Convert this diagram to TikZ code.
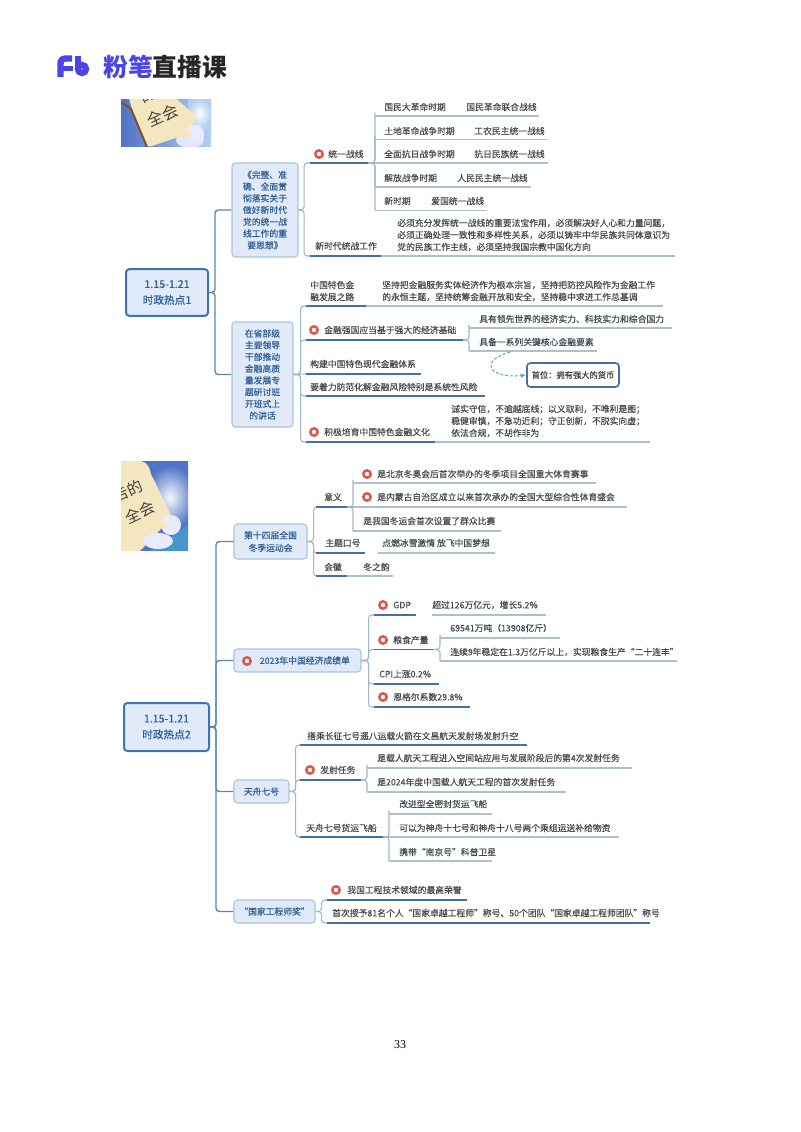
\documentclass[tikz,border=0pt]{standalone}
\usepackage{fontspec}
\setmainfont{Noto Sans CJK SC}
\newfontfamily\lblfont{Noto Sans CJK SC}[FakeBold=0.35]
\newfontfamily\rootfont{Noto Sans CJK SC}[FakeBold=0.7]
\newfontfamily\pagefont{Liberation Serif}
\usetikzlibrary{arrows.meta}
\definecolor{txtgray}{HTML}{4A4A4A}
\definecolor{boxblue}{HTML}{2F5F96}
\definecolor{boxfill}{HTML}{E0EAF8}
\definecolor{boxedge}{HTML}{A9C3DE}
\definecolor{rootedge}{HTML}{3C74B4}
\definecolor{trunkcol}{HTML}{5C87AE}
\definecolor{linkcol}{HTML}{A0B6C9}
\definecolor{majorcol}{HTML}{44729F}
\definecolor{minorcol}{HTML}{AEBFCD}
\definecolor{ringred}{HTML}{D85C4E}
\definecolor{logopurple}{HTML}{4B45E6}
\definecolor{paper}{HTML}{F4E6BE}
\definecolor{skyblue}{HTML}{4F73C6}
\definecolor{skylight}{HTML}{B4CFF2}
\tikzset{
	lbl/.style={anchor=west,inner sep=0pt,text=txtgray,align=left,font=\lblfont\fontsize{6.6}{9}\selectfont},
	rootbox/.style={draw=rootedge,line width=1.5pt,fill=boxfill,rounded corners=2.5pt,text=boxblue,align=center,inner sep=0pt,font=\rootfont\fontsize{8}{12}\selectfont},
	subbox/.style={draw=boxedge,line width=0.8pt,fill=boxfill,rounded corners=2.5pt,text=boxblue,align=center,inner sep=0pt,font=\lblfont\fontsize{6.6}{8.8}\selectfont},
	redring/.style={circle,draw=ringred,line width=1.9pt,fill=white,inner sep=0pt,minimum size=5.5pt},
	trunk/.style={draw=trunkcol,line width=1.1pt,rounded corners=2.5pt},
	link/.style={draw=linkcol,line width=0.8pt,rounded corners=2.5pt},
	major/.style={draw=majorcol,line width=1.1pt},
	minor/.style={draw=minorcol,line width=0.8pt}
}
\begin{document}
\begin{tikzpicture}[x=0.75pt,y=-0.75pt]
	\useasboundingbox (0,0) rectangle (800,1132);

	% logo
	\draw[logopurple,line width=4.8pt] (60.5,77) -- (60.5,64) .. controls (60.5,60.5) and (62,58.5) .. (66,58.5) -- (72,58.5);
	\draw[logopurple,line width=4.4pt] (60.5,68.5) -- (73,68.5);
	\draw[logopurple,line width=4.6pt] (78,56) -- (78,69);
	\draw[logopurple,line width=4.6pt] (82,69) circle (3.1pt);
	\node[anchor=west,inner sep=0pt,font=\bfseries\fontsize{18.6}{20}\selectfont] (brand) at (103,66.5) {\textcolor{logopurple}{粉笔}\textcolor{black!85}{直播课}};

	% first picture
	\begin{scope}
		\clip (121,99) rectangle (211,146);
		\shade[left color=skyblue,right color=skylight] (121,99) rectangle (211,146);
		\shade[inner color=white,outer color=skylight] (188,99) rectangle (211,128);
		\fill[white!90!blue] (190,140) ellipse (14 and 8);
		\fill[paper] (128,95) -- (172,95) -- (197,117) -- (187,134) -- (152,146) -- (146,146) -- (132,109) -- cycle;
		\draw[brown!65!black,line width=1.5pt] (121,102) -- (131,109) -- (147,147);
		\fill[white!92!blue] (195,134) circle (7pt);
		\fill[paper] (187,134) circle (3pt);
		\node[rotate=25,inner sep=0pt,text=black!75,font=\fontsize{12}{13}\selectfont] (capone) at (162.5,115.5) {全会};
		\node[rotate=25,inner sep=0pt,text=black!75,font=\fontsize{11}{12}\selectfont] (captwo) at (148,95) {的};
	\end{scope}

	% second picture
	\begin{scope}
		\clip (121,461) rectangle (188,551);
		\fill[skyblue] (121,461) rectangle (188,551);
		\shade[inner color=white!85!skylight,outer color=skyblue] (145,465) rectangle (195,530);
		\fill[cyan!45!skyblue] (150,551) -- (188,525) -- (188,551) -- cycle;
		\fill[paper] (115,461) -- (141,461) .. controls (147,462) and (150,468) .. (151,474) -- (171,515) -- (160,530) -- (140,551) -- (115,551) -- cycle;
		\fill[white!92!blue] (171,525) circle (7.5pt);
		\fill[white!92!blue] (158,541) ellipse (15 and 8);
		\fill[paper] (163,525) circle (3pt);
		\node[rotate=25,inner sep=0pt,text=black!75,font=\fontsize{11.5}{12}\selectfont] (capthree) at (128,491) {告的};
		\node[rotate=25,inner sep=0pt,text=black!75,font=\fontsize{11.5}{12}\selectfont] (capfour) at (139.5,512.5) {全会};
	\end{scope}

	% first map, roots
	\node[rootbox,minimum width=61.5pt,minimum height=35pt] (rootone) at (167,292.5) {1.15-1.21\\时政热点1};
	\node[subbox,minimum width=49.5pt,minimum height=70.5pt] (wanzheng) at (265,210) {《完整、准\\确、全面贯\\彻落实关于\\做好新时代\\党的统一战\\线工作的重\\要思想》};
	\node[subbox,minimum width=45.75pt,minimum height=78.75pt] (shengbu) at (262.5,374.5) {在省部级\\主要领导\\干部推动\\金融高质\\量发展专\\题研讨班\\开班式上\\的讲话};
	\draw[trunk] (rootone.east) -- ++(6,0) |- (wanzheng.west);
	\draw[trunk] (rootone.east) -- ++(6,0) |- (shengbu.west);

	% united front
	\coordinate (tyzx) at (310,163);
	\coordinate (tyzxend) at (368,163);
	\node[redring] (ringa) at (319,154) {};
	\node[lbl] (tyzxtxt) at (328,154) {统一战线};
	\draw[link] (wanzheng.east) -- ++(5.5,0) |- (tyzx);
	\draw[major] (tyzx) -- (tyzxend);
	\coordinate (xsd) at (310,256);
	\node[lbl] (xsdtxt) at (315,246) {新时代统战工作};
	\draw[link] (wanzheng.east) -- ++(5.5,0) |- (xsd);
	\draw[minor] (xsd) ++(71,0) -- ++(294,0);
	\draw[major] (xsd) -- ++(71,0);
	\node[lbl] (xsdlong) at (397,235) {必须充分发挥统一战线的重要法宝作用，必须解决好人心和力量问题，\\必须正确处理一致性和多样性关系，必须以铸牢中华民族共同体意识为\\党的民族工作主线，必须坚持我国宗教中国化方向};

	\coordinate (gma) at (375,116);
	\coordinate (gmb) at (375,139.5);
	\coordinate (gmc) at (375,163);
	\coordinate (gmd) at (375,187);
	\coordinate (gme) at (375,210.5);
	\draw[link] (tyzxend) -- ++(7,0) |- (gma);
	\draw[link] (tyzxend) -- ++(7,0) |- (gmb);
	\draw[link] (tyzxend) -- (gmc);
	\draw[link] (tyzxend) -- ++(7,0) |- (gmd);
	\draw[link] (tyzxend) -- ++(7,0) |- (gme);
	\draw[minor] (gma) -- ++(164,0);
	\draw[minor] (gmb) -- ++(173,0);
	\draw[minor] (gmc) -- ++(173,0);
	\draw[minor] (gmd) -- ++(156,0);
	\draw[minor] (gme) -- ++(112,0);
	\node[lbl] (gmatxt) at (384,107) {国民大革命时期};
	\node[lbl] (gmaval) at (466,107) {国民革命联合战线};
	\node[lbl] (gmbtxt) at (384,131) {土地革命战争时期};
	\node[lbl] (gmbval) at (474,131) {工农民主统一战线};
	\node[lbl] (gmctxt) at (384,154) {全面抗日战争时期};
	\node[lbl] (gmcval) at (474,154) {抗日民族统一战线};
	\node[lbl] (gmdtxt) at (384,178) {解放战争时期};
	\node[lbl] (gmdval) at (457,178) {人民民主统一战线};
	\node[lbl] (gmetxt) at (384,201) {新时期};
	\node[lbl] (gmeval) at (431,201) {爱国统一战线};

	% finance
	\coordinate (jra) at (306,306);
	\coordinate (jrb) at (306,340);
	\coordinate (jrc) at (306,374);
	\coordinate (jrd) at (306,396);
	\coordinate (jre) at (306,442);
	\draw[link] (shengbu.east) -- ++(7,0) |- (jra);
	\draw[link] (shengbu.east) -- ++(7,0) |- (jrb);
	\draw[link] (shengbu.east) -- (jrc);
	\draw[link] (shengbu.east) -- ++(7,0) |- (jrd);
	\draw[link] (shengbu.east) -- ++(7,0) |- (jre);
	\draw[minor] (jra) ++(60,0) -- ++(297,0);
	\draw[major] (jra) -- ++(60,0);
	\node[lbl] (jratxt) at (310,291) {中国特色金\\融发展之路};
	\node[lbl] (jraval) at (382,291) {坚持把金融服务实体经济作为根本宗旨，坚持把防控风险作为金融工作\\的永恒主题，坚持统筹金融开放和安全，坚持稳中求进工作总基调};
	\node[redring] (ringb) at (314,330) {};
	\node[lbl] (jrbtxt) at (324,330) {金融强国应当基于强大的经济基础};
	\draw[major] (jrb) -- ++(157,0) coordinate (jrbend);
	\node[lbl] (jrctxt) at (310,364) {构建中国特色现代金融体系};
	\draw[major] (jrc) -- ++(115,0);
	\node[lbl] (jrdtxt) at (310,387) {要着力防范化解金融风险特别是系统性风险};
	\draw[major] (jrd) -- ++(179,0);
	\node[redring] (ringc) at (314,432) {};
	\node[lbl] (jretxt) at (324,432) {积极培育中国特色金融文化};
	\draw[minor] (jre) ++(129,0) -- ++(215,0);
	\draw[major] (jre) -- ++(129,0);
	\node[lbl] (jreval) at (451,421) {诚实守信，不逾越底线；以义取利，不唯利是图；\\稳健审慎，不急功近利；守正创新，不脱实向虚；\\依法合规，不胡作非为};

	\coordinate (jcha) at (469,328);
	\coordinate (jchb) at (469,351);
	\draw[link] (jrbend) -- ++(6,0) |- (jcha);
	\draw[link] (jrbend) -- ++(6,0) |- (jchb);
	\draw[minor] (jcha) -- ++(203,0);
	\draw[minor] (jchb) -- ++(128,0);
	\coordinate (curvestart) at (510,352);
	\node[lbl] (jchatxt) at (479,319) {具有领先世界的经济实力、科技实力和综合国力};
	\node[lbl] (jchbtxt) at (479,342) {具备一系列关键核心金融要素};
	\node[draw=majorcol,line width=1.2pt,rounded corners=2.5pt,fill=white,inner sep=0pt,minimum width=69pt,minimum height=18pt,text=black!75,font=\rootfont\fontsize{6.2}{8}\selectfont] (shouwei) at (573,375) {首位：拥有强大的货币};
	\draw[draw=cyan!55!gray,line width=0.8pt,dash pattern=on 2.2pt off 1.4pt,-{Latex[length=4pt,width=3.5pt]}] (curvestart) .. controls (476,362) and (492,379) .. (shouwei.west);

	% second map, roots
	\node[rootbox,minimum width=63.75pt,minimum height=36pt] (roottwo) at (166.5,727) {1.15-1.21\\时政热点2};
	\node[subbox,minimum width=54.75pt,minimum height=26.25pt,font=\lblfont\fontsize{6.6}{9.5}\selectfont] (dongyun) at (270.5,541.5) {第十四届全国\\冬季运动会};
	\node[subbox,minimum width=95.25pt,minimum height=17.25pt] (jingji) at (297.5,660.5) {\hspace{11pt}2023年中国经济成绩单};
	\node[redring] (ringd) at (247,661) {};
	\node[subbox,minimum width=41.25pt,minimum height=17.25pt] (tianzhou) at (261.5,791.5) {天舟七号};
	\node[subbox,minimum width=60.75pt,minimum height=17.25pt] (gongcheng) at (274.5,911.5) {“国家工程师奖”};
	\draw[trunk] (roottwo.east) -- ++(6,0) |- (dongyun.west);
	\draw[trunk] (roottwo.east) -- ++(6,0) |- (jingji.west);
	\draw[trunk] (roottwo.east) -- ++(6,0) |- (tianzhou.west);
	\draw[trunk] (roottwo.east) -- ++(6,0) |- (gongcheng.west);

	% winter games
	\coordinate (yiyi) at (316,507);
	\coordinate (kouhao) at (316,553);
	\coordinate (huihui) at (316,576);
	\draw[link] (dongyun.east) -- ++(6,0) |- (yiyi);
	\draw[link] (dongyun.east) -- ++(6,0) |- (kouhao);
	\draw[link] (dongyun.east) -- ++(6,0) |- (huihui);
	\draw[major] (yiyi) -- ++(31,0) coordinate (yiyiend);
	\draw[major] (kouhao) -- ++(49,0);
	\draw[minor] (378,553) -- (495,553);
	\draw[minor] (347,576) -- (393,576);
	\draw[major] (huihui) -- ++(31,0);
	\node[lbl] (yiyitxt) at (324,497) {意义};
	\node[lbl] (kouhaotxt) at (325,543) {主题口号};
	\node[lbl] (kouhaoval) at (382,543) {点燃冰雪激情 放飞中国梦想};
	\node[lbl] (huihuitxt) at (324,567) {会徽};
	\node[lbl] (huihuival) at (363,567) {冬之韵};

	\coordinate (yya) at (353,483);
	\coordinate (yyb) at (353,507);
	\coordinate (yyc) at (353,531);
	\draw[link] (yiyiend) -- ++(6,0) |- (yya);
	\draw[link] (yiyiend) -- (yyb);
	\draw[link] (yiyiend) -- ++(6,0) |- (yyc);
	\draw[minor] (yya) -- ++(243,0);
	\draw[minor] (yyb) -- ++(274,0);
	\draw[minor] (yyc) -- ++(148,0);
	\node[redring] (ringe) at (367,474) {};
	\node[lbl] (yyatxt) at (377,474) {是北京冬奥会后首次举办的冬季项目全国重大体育赛事};
	\node[redring] (ringf) at (367,497) {};
	\node[lbl] (yybtxt) at (377,497) {是内蒙古自治区成立以来首次承办的全国大型综合性体育盛会};
	\node[lbl] (yyctxt) at (363,521) {是我国冬运会首次设置了群众比赛};

	% economy
	\coordinate (gdp) at (374,615);
	\coordinate (liang) at (374,649.5);
	\coordinate (cpi) at (374,684);
	\coordinate (engel) at (374,707);
	\draw[link] (jingji.east) -- ++(7,0) |- (gdp);
	\draw[link] (jingji.east) -- ++(7,0) |- (liang);
	\draw[link] (jingji.east) -- ++(7,0) |- (cpi);
	\draw[link] (jingji.east) -- ++(7,0) |- (engel);
	\draw[major] (gdp) -- ++(42,0);
	\draw[minor] (432,615) -- (546,615);
	\draw[major] (liang) -- ++(59,0) coordinate (liangend);
	\draw[major] (cpi) -- ++(65,0);
	\draw[major] (engel) -- ++(96,0);
	\node[redring] (ringg) at (383,605) {};
	\node[lbl] (gdptxt) at (393,605) {GDP};
	\node[lbl] (gdpval) at (432,605) {超过126万亿元，增长5.2\%};
	\node[redring] (ringh) at (383,640) {};
	\node[lbl] (liangtxt) at (393,640) {粮食产量};
	\node[lbl] (cpitxt) at (379,674) {CPI上涨0.2\%};
	\node[redring] (ringi) at (383,697) {};
	\node[lbl] (engeltxt) at (393,697) {恩格尔系数29.8\%};
	\coordinate (lsa) at (440,638);
	\coordinate (lsb) at (440,661);
	\draw[link] (liangend) -- ++(7,0) |- (lsa);
	\draw[link] (liangend) -- ++(7,0) |- (lsb);
	\draw[minor] (lsa) -- ++(120,0);
	\draw[minor] (lsb) -- ++(237,0);
	\node[lbl] (lsatxt) at (450,628) {69541万吨（13908亿斤）};
	\node[lbl] (lsbtxt) at (450,652) {连续9年稳定在1.3万亿斤以上，实现粮食生产“二十连丰”};

	% spacecraft
	\coordinate (dazai) at (300,745);
	\coordinate (fashe) at (300,780);
	\coordinate (huoyun) at (300,837);
	\draw[link] (tianzhou.east) -- ++(6,0) |- (dazai);
	\draw[link] (tianzhou.east) -- ++(6,0) |- (fashe);
	\draw[link] (tianzhou.east) -- ++(6,0) |- (huoyun);
	\draw[major] (dazai) -- ++(227,0);
	\draw[major] (fashe) -- ++(61,0) coordinate (fasheend);
	\draw[major] (huoyun) -- ++(83,0) coordinate (huoyunend);
	\node[lbl] (dazaitxt) at (307,736) {搭乘长征七号遥八运载火箭在文昌航天发射场发射升空};
	\node[redring] (ringj) at (310,770) {};
	\node[lbl] (fashetxt) at (320,770) {发射任务};
	\node[lbl] (huoyuntxt) at (306,828) {天舟七号货运飞船};
	\coordinate (fsa) at (367,768);
	\coordinate (fsb) at (367,792);
	\draw[link] (fasheend) -- ++(6,0) |- (fsa);
	\draw[link] (fasheend) -- ++(6,0) |- (fsb);
	\draw[minor] (fsa) -- ++(265,0);
	\draw[minor] (fsb) -- ++(199,0);
	\node[lbl] (fsatxt) at (377,758) {是载人航天工程进入空间站应用与发展阶段后的第4次发射任务};
	\node[lbl] (fsbtxt) at (377,782) {是2024年度中国载人航天工程的首次发射任务};
	\coordinate (hya) at (389,814);
	\coordinate (hyb) at (389,837);
	\coordinate (hyc) at (389,861);
	\draw[link] (huoyunend) -- ++(6,0) |- (hya);
	\draw[link] (huoyunend) -- (hyb);
	\draw[link] (huoyunend) -- ++(6,0) |- (hyc);
	\draw[minor] (hya) -- ++(103,0);
	\draw[minor] (hyb) -- ++(230,0);
	\draw[minor] (hyc) -- ++(103,0);
	\node[lbl] (hyatxt) at (399,804) {改进型全密封货运飞船};
	\node[lbl] (hybtxt) at (399,828) {可以为神舟十七号和神舟十八号两个乘组运送补给物资};
	\node[lbl] (hyctxt) at (399,852) {携带“南京号”科普卫星};

	% engineers
	\coordinate (rongyu) at (327,900);
	\coordinate (shouci) at (327,923);
	\draw[link] (gongcheng.east) -- ++(6,0) |- (rongyu);
	\draw[link] (gongcheng.east) -- ++(6,0) |- (shouci);
	\draw[major] (rongyu) -- ++(140,0);
	\draw[major] (shouci) -- ++(323,0);
	\node[redring] (ringk) at (336,890) {};
	\node[lbl] (rongyutxt) at (347,890) {我国工程技术领域的最高荣誉};
	\node[lbl] (shoucitxt) at (332,913) {首次授予81名个人“国家卓越工程师”称号、50个团队“国家卓越工程师团队”称号};

	\node[inner sep=0pt,font=\pagefont\fontsize{9}{10}\selectfont] (pagenum) at (400,1045) {33};
\end{tikzpicture}
\end{document}
